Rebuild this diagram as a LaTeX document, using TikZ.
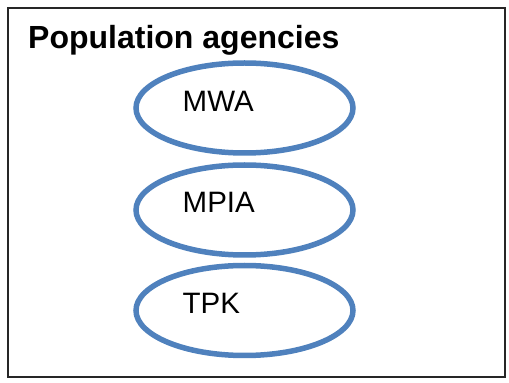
\documentclass[tikz,border=0pt]{standalone}
\usepackage{fontspec}
\setmainfont{Liberation Sans}
\usetikzlibrary{shapes.geometric}
\definecolor{agblue}{HTML}{4F81BD}
\tikzset{
  agency/.style={ellipse, draw=agblue, line width=5.5pt, minimum width=217pt, minimum height=90pt, inner sep=0pt},
  lbl/.style={anchor=base west, inner sep=0pt, font=\fontsize{29.5pt}{33pt}\selectfont},
  ttl/.style={anchor=base west, inner sep=0pt, font=\fontsize{32pt}{36pt}\selectfont\bfseries},
  frame/.style={draw=black!85, line width=1.5pt}
}
\begin{document}
\begin{tikzpicture}[x=1pt,y=1pt]
\useasboundingbox (0,0) rectangle (509,383);
\node[frame, minimum width=497pt, minimum height=369pt, inner sep=0pt] (box) at (256.5,190.5) {};
\node[ttl] (title) at (28,334) {Population agencies};
\node[agency] (mwa) at (244.5,275) {};
\node[agency] (mpia) at (244.5,173) {};
\node[agency] (tpk) at (244.5,72.5) {};
\node[lbl] (mwat) at (182.5,271) {MWA};
\node[lbl] (mpiat) at (182.5,170) {MPIA};
\node[lbl] (tpkt) at (182.5,69) {TPK};
\end{tikzpicture}
\end{document}
